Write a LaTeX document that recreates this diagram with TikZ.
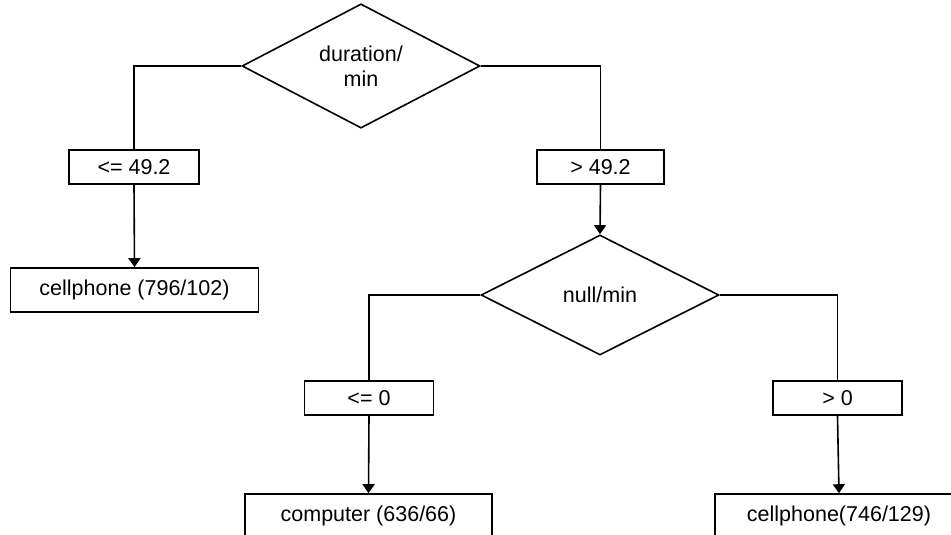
\documentclass[tikz,border=0pt]{standalone}
\usepackage{fontspec}
\setmainfont{Liberation Sans}
\usetikzlibrary{shapes.geometric,arrows.meta}
\begin{document}
\begin{tikzpicture}[x=1pt,y=-1pt,
  font=\fontsize{21.5}{25}\selectfont,
  line width=1.6pt,
  decision/.style={diamond,draw,inner sep=0pt,align=center,
    minimum width=238pt,minimum height=122pt},
  cond/.style={rectangle,draw,inner sep=0pt,minimum width=129pt,minimum height=34pt},
  leaf/.style={rectangle,draw,inner sep=0pt,minimum height=44pt},
  link/.style={line width=1.6pt},
  arrow/.style={line width=1.6pt,-{Triangle[width=12pt,length=9pt]}}]
  \useasboundingbox (0,0) rectangle (951,535);
  \clip (0,0) rectangle (951,535);

  % root test
  \node[decision] (dur) at (361,66) {duration/\\min};
  \node[cond,minimum width=130pt] (le49) at (134,167) {<= 49.2};
  \node[cond,minimum width=127pt] (gt49) at (600.5,167) {> 49.2};
  \node[leaf,minimum width=248pt] (cellA) at (134.5,290) {cellphone (796/102)};

  % second test
  \node[decision,minimum height=120pt] (nul) at (600,295) {null/min};
  \node[cond] (le0) at (369,398) {<= 0};
  \node[cond] (gt0) at (837.5,398) {> 0};
  \node[leaf,minimum width=247pt] (comp) at (368.5,516) {computer (636/66)};
  \node[leaf,minimum width=248pt] (cellB) at (839,516) {cellphone(746/129)};

  % connectors
  \draw[link] (dur.west) -| (le49.north);
  \draw[link] (dur.east) -| (gt49.north);
  \draw[arrow] (le49.south) -- (cellA.north);
  \draw[arrow] (gt49.south) -- (nul.north);
  \draw[link] (nul.west) -| (le0.north);
  \draw[link] (nul.east) -| (gt0.north);
  \draw[arrow] (le0.south) -- (comp.north);
  \draw[arrow] (gt0.south) -- (cellB.north);
\end{tikzpicture}
\end{document}
